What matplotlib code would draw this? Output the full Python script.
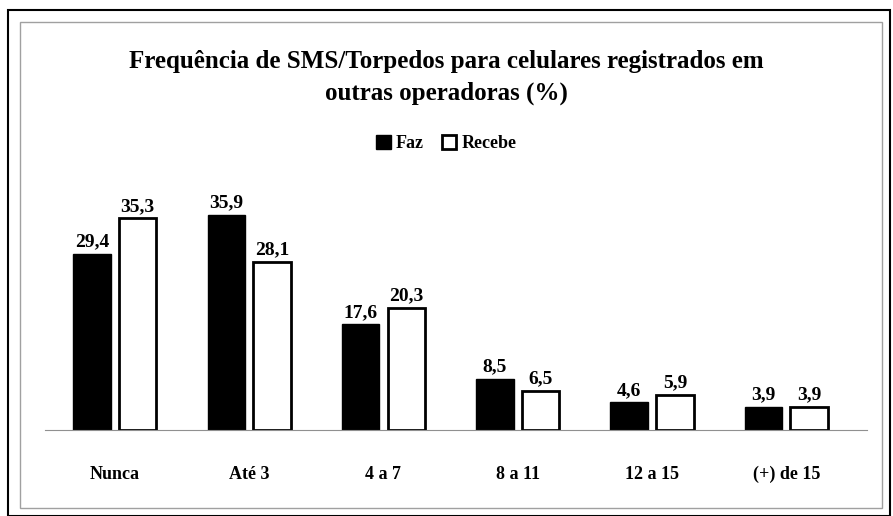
import numpy as np
import matplotlib.pyplot as plt
from matplotlib.patches import Rectangle

categorias = ["Nunca", "Até 3", "4 a 7", "8 a 11", "12 a 15", "(+) de 15"]
faz = [29.4, 35.9, 17.6, 8.5, 4.6, 3.9]
recebe = [35.3, 28.1, 20.3, 6.5, 5.9, 3.9]

fonte = "Liberation Serif"

fig = plt.figure(figsize=(8.93, 5.16), dpi=100)

# molduras
fig.patches.append(Rectangle((8 / 893, 0), 882 / 893, 506 / 516, transform=fig.transFigure,
                             fill=False, edgecolor="black", linewidth=1.5))
fig.patches.append(Rectangle((20 / 893, 8 / 516), 862 / 893, 486 / 516, transform=fig.transFigure,
                             fill=False, edgecolor="#a0a0a0", linewidth=1.0))

ax = fig.add_axes([45 / 893, 86 / 516, 822 / 893, 250 / 516])
x = np.arange(len(categorias))
w = 0.28
b1 = ax.bar(x - 0.17, faz, w, color="black", edgecolor="black", label="Faz")
b2 = ax.bar(x + 0.17, recebe, w, color="white", edgecolor="black", linewidth=2, label="Recebe")

for barras, vals in [(b1, faz), (b2, recebe)]:
    for r, v in zip(barras, vals):
        ax.text(r.get_x() + r.get_width() / 2, v + 0.6, f"{v:.1f}".replace(".", ","),
                ha="center", va="bottom", fontsize=14, fontweight="bold", family=fonte)

ax.set_xlim(-0.52, 5.6)
ax.set_ylim(0, 41.7)
ax.set_xticks(x)
ax.set_xticklabels(categorias, fontsize=13, fontweight="bold", family=fonte)
ax.tick_params(axis="x", length=0, pad=26)
ax.set_yticks([])
for s in ["top", "right", "left"]:
    ax.spines[s].set_visible(False)
ax.spines["bottom"].set_color("#909090")

fig.text(0.5, 0.85, "Frequência de SMS/Torpedos para celulares registrados em\noutras operadoras (%)",
         ha="center", va="center", fontsize=18, fontweight="bold", family=fonte, linespacing=1.5)
fig.legend(loc="center", bbox_to_anchor=(0.5, 0.722), ncol=2, frameon=False,
           prop={"family": fonte, "weight": "bold", "size": 13},
           handlelength=0.8, handleheight=0.8, handletextpad=0.3, columnspacing=1.0)

fig.savefig("out.png", dpi=100)
